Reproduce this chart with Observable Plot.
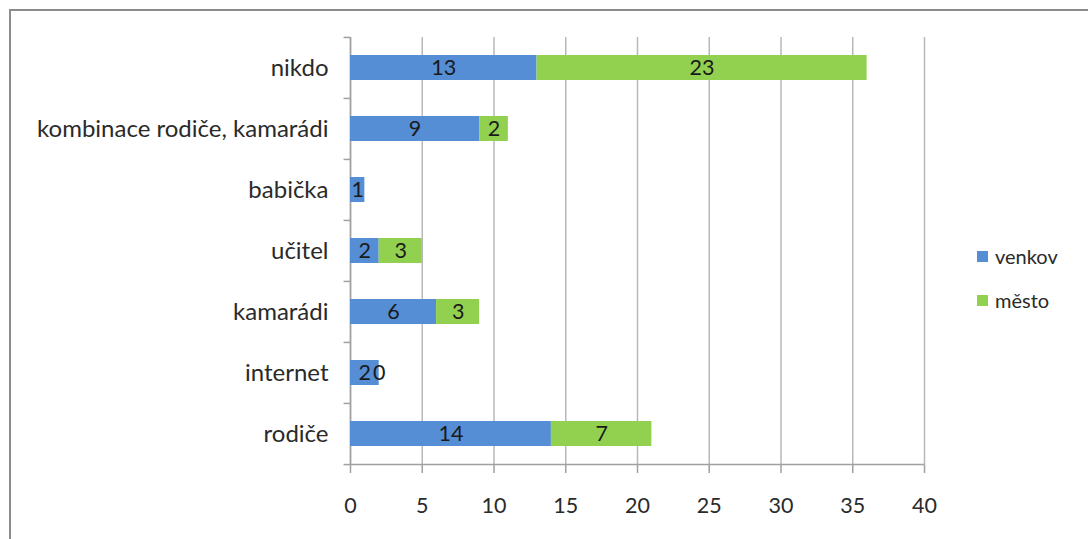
<!DOCTYPE html>
<html>
<head>
<meta charset="utf-8">
<script src="https://cdn.jsdelivr.net/npm/d3@7"></script>
<script src="https://cdn.jsdelivr.net/npm/@observablehq/plot@0.6"></script>
<style>
  html, body { margin: 0; padding: 0; background: #fff; }
  #wrap { position: relative; width: 1088px; height: 539px; overflow: hidden; font-family: Lato, "Open Sans", sans-serif; }
  #frame { position: absolute; left: 9px; top: 9px; width: 1200px; height: 700px; border-top: 2px solid #8c8c8c; border-left: 2px solid #8c8c8c; }
  #chart { position: absolute; left: 0; top: 0; }
  .legend { position: absolute; left: 977px; font-size: 20px; color: #2a2a2a; display: flex; align-items: center; }
  .legend span.sw { display: inline-block; width: 11px; height: 11px; margin-right: 7px; }
</style>
</head>
<body>
<div id="wrap">
  <div id="frame"></div>
  <div id="chart"></div>
  <div class="legend" style="top:244px"><span class="sw" style="background:#558ED5"></span>venkov</div>
  <div class="legend" style="top:288px"><span class="sw" style="background:#92D050"></span>město</div>
</div>
<script>
// categories, top to bottom as displayed
const categories = ["nikdo", "kombinace rodiče, kamarádi", "babička", "učitel", "kamarádi", "internet", "rodiče"];
const seriesNames = ["venkov", "město"];
const venkov = [13, 9, 1, 2, 6, 2, 14];
const mesto  = [23, 2, null, 3, 3, 0, 7];
const xTicks = [0, 5, 10, 15, 20, 25, 30, 35, 40];
const colors = ["#558ED5", "#92D050"];

const rows = [];
categories.forEach((c, i) => {
  if (venkov[i] != null) rows.push({cat: c, series: "venkov", value: venkov[i]});
  if (mesto[i] != null) rows.push({cat: c, series: "město", value: mesto[i]});
});

const W = 1088, H = 539;
const mTop = 37, mBottom = 74, mLeft = 350, mRight = 164;
const step = (H - mTop - mBottom) / categories.length;

const chart = Plot.plot({
  width: W,
  height: H,
  marginTop: mTop,
  marginBottom: mBottom,
  marginLeft: mLeft,
  marginRight: mRight,
  style: {fontFamily: "Lato, 'Open Sans', sans-serif", fontSize: "21px", color: "#2a2a2a", background: "transparent"},
  x: {domain: [0, 40], ticks: xTicks, label: null},
  y: {domain: categories, paddingInner: 0.59, paddingOuter: 0.295, label: null},
  color: {domain: seriesNames, range: colors},
  marks: [
    Plot.ruleX(xTicks, {x: d => d, stroke: "#b8b8b8", strokeWidth: 1.5, strokeOpacity: 1}),
    Plot.ruleY([0], {y: () => categories[categories.length - 1], x1: 0, x2: 40, dy: step / 2, stroke: "#a0a0a0", strokeWidth: 1.5}),
    Plot.ruleX([0], {stroke: "#a0a0a0", strokeWidth: 1.5}),
    Plot.ruleY(categories, {y: d => d, x1: -0.45, x2: 0, dy: -step / 2, stroke: "#a0a0a0", strokeWidth: 1.5}),
    Plot.ruleY([categories[categories.length - 1]], {y: d => d, x1: -0.45, x2: 0, dy: step / 2, stroke: "#a0a0a0", strokeWidth: 1.5}),
    Plot.barX(rows, Plot.stackX({x: "value", y: "cat", fill: "series", order: seriesNames})),
    Plot.textX(rows, Plot.stackX({x: "value", y: "cat", z: "series", order: seriesNames, text: d => String(d.value), fill: "#1a1a1a", fontSize: 21.5})),
    Plot.axisX({ticks: xTicks, tickSize: 8, tickPadding: 24, stroke: "#a0a0a0", strokeWidth: 1.5, strokeOpacity: 1, fill: "#2a2a2a", fontSize: 21.5, label: null}),
    Plot.axisY({tickSize: 0, tickPadding: 22, fill: "#2a2a2a", fontSize: 24, label: null})
  ]
});
document.getElementById("chart").appendChild(chart);
</script>
</body>
</html>
